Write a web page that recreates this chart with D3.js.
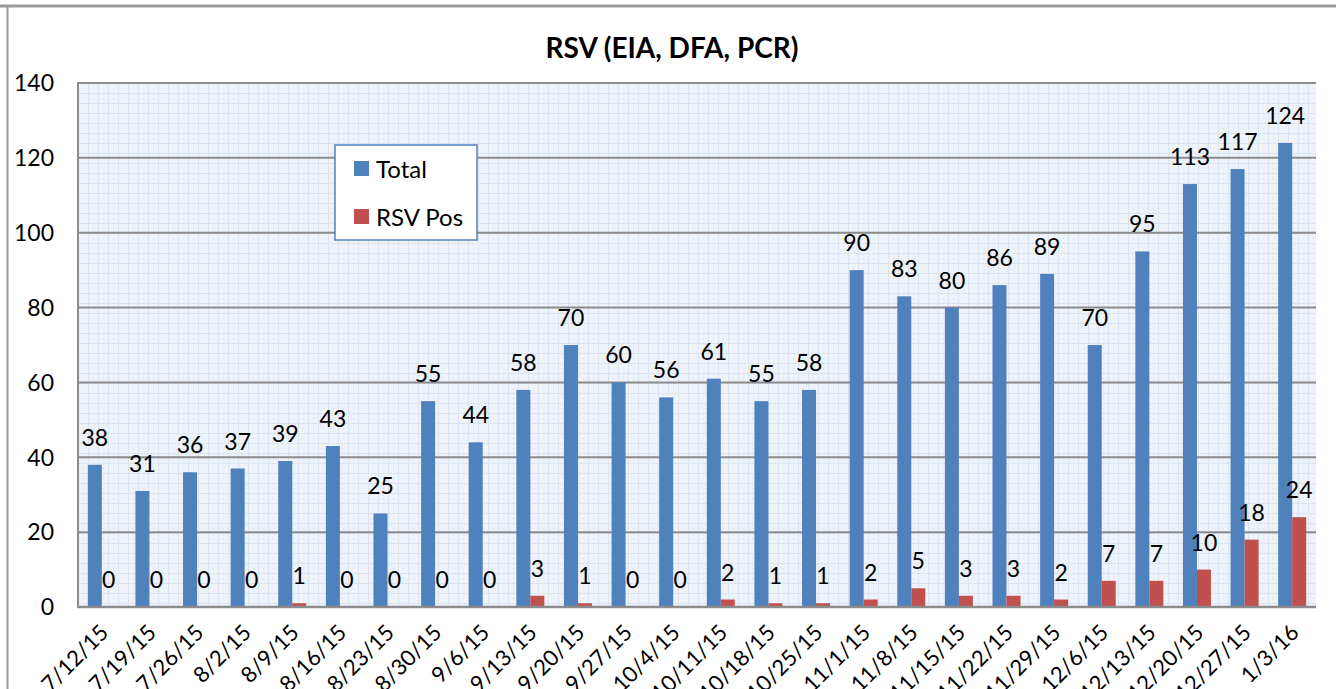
<!DOCTYPE html>
<html>
<head>
<meta charset="utf-8">
<script src="https://cdn.jsdelivr.net/npm/d3@7"></script>
<style>
  body { margin: 0; background: #fff; }
  svg { display: block; font-family: Lato, "Open Sans", sans-serif; }
</style>
</head>
<body>
<div class="plot"></div>
<script>
const dates = ["7/12/15","7/19/15","7/26/15","8/2/15","8/9/15","8/16/15","8/23/15","8/30/15","9/6/15","9/13/15","9/20/15","9/27/15","10/4/15","10/11/15","10/18/15","10/25/15","11/1/15","11/8/15","11/15/15","11/22/15","11/29/15","12/6/15","12/13/15","12/20/15","12/27/15","1/3/16"];
const total = [38,31,36,37,39,43,25,55,44,58,70,60,56,61,55,58,90,83,80,86,89,70,95,113,117,124];
const rsvPos = [0,0,0,0,1,0,0,0,0,3,1,0,0,2,1,1,2,5,3,3,2,7,7,10,18,24];
const seriesNames = ["Total", "RSV Pos"];
const colors = ["#4F81BD", "#C0504D"];
const yTicks = [0,20,40,60,80,100,120,140];

const W = 1336, H = 689;
const plot = {left: 78, right: 1316, top: 83, bottom: 607};

const svg = d3.select(".plot")
  .append("svg")
    .attr("width", W)
    .attr("height", H);

// background grid pattern
const defs = svg.append("defs");
const pat = defs.append("pattern")
  .attr("id", "grid")
  .attr("patternUnits", "userSpaceOnUse")
  .attr("width", 10).attr("height", 10)
  .attr("x", plot.left).attr("y", plot.top);
pat.append("rect").attr("width", 10).attr("height", 10).attr("fill", "#EEF2F9");
pat.append("path").attr("d", "M0,0.5H10M0.5,0V10").attr("stroke", "#DCE4F0").attr("stroke-width", 1);
pat.append("rect").attr("x", 5).attr("y", 5).attr("width", 1).attr("height", 1).attr("fill", "#D3DBE8");

// outer frame
svg.append("line").attr("x1", 0).attr("x2", W).attr("y1", 6).attr("y2", 6)
  .attr("stroke", "#9a9a9a").attr("stroke-width", 3);
svg.append("line").attr("x1", 7.5).attr("x2", 7.5).attr("y1", 7).attr("y2", H)
  .attr("stroke", "#9a9a9a").attr("stroke-width", 2);

// title
svg.append("text")
  .attr("x", 672).attr("y", 58)
  .attr("text-anchor", "middle")
  .attr("font-weight", "bold")
  .attr("font-size", "28px")
  .attr("fill", "#000")
  .text("RSV (EIA, DFA, PCR)");

// scales
const x0 = d3.scaleBand()
  .domain(dates)
  .range([plot.left, plot.right])
  .paddingInner(0.412)
  .paddingOuter(0.206);
const x1 = d3.scaleBand()
  .domain(seriesNames)
  .range([0, x0.bandwidth()]);
const y = d3.scaleLinear()
  .domain([0, 140])
  .range([plot.bottom, plot.top]);

svg.append("rect")
  .attr("x", plot.left).attr("y", plot.top)
  .attr("width", plot.right - plot.left)
  .attr("height", plot.bottom - plot.top)
  .attr("fill", "url(#grid)");

// major gridlines
svg.append("g")
  .selectAll("line")
  .data(yTicks)
  .enter()
  .append("line")
    .attr("x1", plot.left).attr("x2", plot.right)
    .attr("y1", d => y(d)).attr("y2", d => y(d))
    .attr("stroke", "#8c8c8c")
    .attr("stroke-width", 2);

// left edge of plot
svg.append("line")
  .attr("x1", plot.left).attr("x2", plot.left)
  .attr("y1", plot.top - 1).attr("y2", plot.bottom + 1)
  .attr("stroke", "#8c8c8c").attr("stroke-width", 2);

// y labels
svg.append("g")
  .selectAll("text")
  .data(yTicks)
  .enter()
  .append("text")
    .attr("x", 54)
    .attr("y", d => y(d))
    .attr("dy", "0.36em")
    .attr("text-anchor", "end")
    .attr("font-size", "23px")
    .attr("fill", "#000")
    .text(d => d);

// bars
const rows = dates.map((d, i) => ({date: d, values: [total[i], rsvPos[i]]}));
const groups = svg.append("g")
  .selectAll("g")
  .data(rows)
  .enter()
  .append("g")
    .attr("transform", d => "translate(" + x0(d.date) + ",0)");

groups.selectAll("rect")
  .data(d => d.values.map((v, k) => ({name: seriesNames[k], value: v, k: k})))
  .enter()
  .append("rect")
    .attr("x", d => x1(d.name))
    .attr("y", d => y(d.value))
    .attr("width", x1.bandwidth())
    .attr("height", d => y(0) - y(d.value))
    .attr("fill", d => colors[d.k]);

groups.selectAll("text")
  .data(d => d.values.map((v, k) => ({name: seriesNames[k], value: v})))
  .enter()
  .append("text")
    .attr("x", d => x1(d.name) + x1.bandwidth() / 2)
    .attr("y", d => y(d.value) - 19)
    .attr("text-anchor", "middle")
    .attr("font-size", "23px")
    .attr("fill", "#000")
    .text(d => d.value);

// x axis line
svg.append("line")
  .attr("x1", plot.left - 1).attr("x2", plot.right)
  .attr("y1", plot.bottom).attr("y2", plot.bottom)
  .attr("stroke", "#8c8c8c").attr("stroke-width", 2.5);

// x labels
svg.append("g")
  .selectAll("text")
  .data(dates)
  .enter()
  .append("text")
    .attr("transform", d => "translate(" + (x0(d) + x0.bandwidth() / 2 + 8) + ",634) rotate(-45)")
    .attr("text-anchor", "end")
    .attr("font-size", "22px")
    .attr("fill", "#000")
    .text(d => d);

// legend
const legend = svg.append("g").attr("transform", "translate(335,145)");
legend.append("rect")
  .attr("width", 142).attr("height", 95)
  .attr("fill", "#fff")
  .attr("stroke", "#4F81BD")
  .attr("stroke-width", 1.5);
const li = legend.selectAll("g")
  .data(seriesNames)
  .enter()
  .append("g")
    .attr("transform", (d, i) => "translate(19," + (16 + i * 48) + ")");
li.append("rect")
  .attr("width", 15).attr("height", 15)
  .attr("fill", (d, i) => colors[i]);
li.append("text")
  .attr("x", 22).attr("y", 8)
  .attr("dy", "0.36em")
  .attr("font-size", "24px")
  .attr("fill", "#000")
  .text(d => d);
</script>
</body>
</html>
